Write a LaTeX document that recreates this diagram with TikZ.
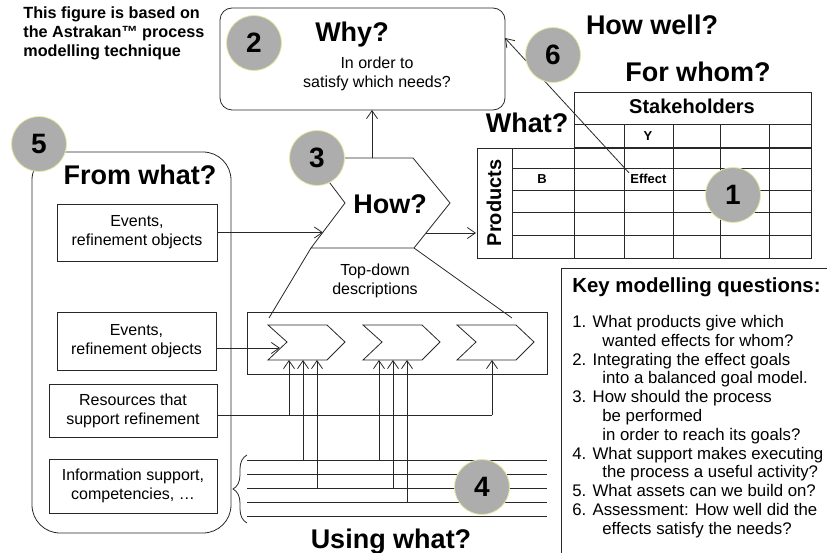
\documentclass[tikz,border=0pt]{standalone}
\usepackage{fontspec}
\setmainfont{Liberation Sans}
\usetikzlibrary{arrows.meta,decorations.pathreplacing}
\definecolor{numgray}{RGB}{173,173,173}
\definecolor{numedge}{RGB}{232,232,160}
\definecolor{ink}{RGB}{40,40,40}
\begin{document}
\begin{tikzpicture}[x=1pt,y=-1pt,line width=0.8pt,draw=ink,
  num/.style={circle,fill=numgray,draw=numedge,line width=0.8pt,minimum size=55pt,inner sep=0pt,font=\fontsize{28}{28}\selectfont\bfseries},
  tip/.style={-{Straight Barb[length=8pt,width=11pt,line width=0.8pt]}},
  bigq/.style={inner sep=0pt,font=\fontsize{27}{27}\selectfont\bfseries},
  body/.style={inner sep=0pt,align=center,font=\fontsize{16}{19}\selectfont},
  srcbox/.style={draw,inner sep=0pt,align=center,font=\fontsize{16}{19}\selectfont},
  cell/.style={inner sep=1pt,font=\fontsize{13}{13}\selectfont\bfseries}]
\useasboundingbox (0,0) rectangle (827,553);

% intro text
\node[anchor=north west,inner sep=0pt,align=left,font=\fontsize{16.2}{19}\selectfont\bfseries] (intro) at (23,6)
  {This figure is based on\\the Astrakan™ process\\modelling technique};

% Why box
\node[draw,rounded corners=12pt,minimum width=285pt,minimum height=102pt] (why) at (362.5,59) {};
\node[bigq,anchor=base] (whyq) at (352,42) {Why?};
\node[body] (whyt) at (377,74) {In order to\\satisfy which needs?};

% How chevron
\coordinate (h1) at (311,158); \coordinate (h2) at (413,158); \coordinate (h3) at (450,203);
\coordinate (h4) at (414,248); \coordinate (h5) at (311,248); \coordinate (h6) at (345,203);
\draw (h1) -- (h2) -- (h3) -- (h4) -- (h5) -- (h6) -- cycle;
\node[bigq] (howq) at (390,204) {How?};
\coordinate (howtop) at (372,158); \coordinate (whybot) at (372,110);
\draw[tip] (howtop) -- (whybot);
\coordinate (howout) at (426,233); \coordinate (tabin) at (476,233);
\draw[tip] (howout) -- (tabin);

% top-down
\coordinate (tdl) at (269,318); \coordinate (tdr) at (512,318);
\draw (h5) -- (tdl);
\draw (h4) -- (tdr);
\node[body] (td) at (375,281) {Top-down\\descriptions};

% process container and chevrons
\node[draw,minimum width=300pt,minimum height=62pt,inner sep=0pt] (proc) at (397,343) {};
\foreach \dx in {0,95,189}{
  \draw[shift={(\dx,0)}] (268,325) -- (327,325) -- (345,342) -- (327,360) -- (268,360) -- (287,342) -- cycle;
}

% From what box
\node[draw,rounded corners=28pt,minimum width=199pt,minimum height=381pt,inner sep=0pt] (fw) at (131.5,342.5) {};
\node[bigq,anchor=base] (fwq) at (140,185) {From what?};
\node[srcbox,minimum width=160pt,minimum height=57pt] (b1) at (137,232.5) {Events,\\refinement objects};
\node[srcbox,minimum width=159pt,minimum height=58pt] (b2) at (136.5,341) {Events,\\refinement objects};
\node[srcbox,minimum width=168pt,minimum height=53pt] (b3) at (133,410.5) {Resources that\\support refinement};
\node[srcbox,minimum width=168pt,minimum height=54pt] (b4) at (133,486) {Information support,\\competencies, …};

\coordinate (a1) at (323,232.5);
\draw[tip] (b1.east) -- (a1);
\coordinate (a2) at (280,348);
\draw[tip] (b2.east |- a2) -- (a2);

% resources line
\coordinate (res) at (492,415);
\draw (b3.east |- res) -- (res);
\foreach \x/\y in {289/415,303/460,317/488,379/460,393/488,407/502,492/415}{
  \draw[tip] (\x,\y) -- (\x,360);
}

% support lines
\foreach \y in {460,474,488,502,516}{
  \draw (247,\y) -- (547,\y);
}
\draw[decorate,decoration={brace,amplitude=14pt}] (247,523) -- (247,455);
\node[bigq,anchor=base] (uw) at (391,548) {Using what?};

% table
\draw (574,92) rectangle (811,258);
\draw (477,148) rectangle (574,258);
\draw (512,148) -- (512,258);
\draw (574,124) -- (811,124);
\draw[line width=1.6pt] (574,148) -- (811,148);
\foreach \y in {168,190,212,235}{ \draw (512,\y) -- (811,\y); }
\foreach \x in {624,673,720,769}{ \draw (\x,124) -- (\x,258); }
\node[inner sep=0pt,font=\fontsize{20}{20}\selectfont\bfseries] (stk) at (692,106) {Stakeholders};
\node[inner sep=0pt,font=\fontsize{20}{20}\selectfont\bfseries,rotate=90] (prod) at (494,203) {Products};
\node[cell] (cy) at (648,136) {Y};
\node[cell] (cb) at (542,179) {B};
\node[cell,anchor=west] (eff) at (629,179) {Effect};
\node[bigq,anchor=base] (whatq) at (527,133) {What?};
\node[bigq,anchor=base] (hwq) at (652,35) {How well?};
\node[bigq,anchor=base] (fwhom) at (698,82) {For whom?};
\coordinate (whyin) at (505,38);
\draw[tip] (eff.north west) -- (whyin);

% key modelling questions
\coordinate (kqtr) at (827,268); \coordinate (kqtl) at (561,268); \coordinate (kqbl) at (561,553);
\draw (kqtr) -- (kqtl) -- (kqbl);
\node[anchor=base west,inner sep=0pt,font=\fontsize{20.4}{20}\selectfont\bfseries] (kqt) at (572,293) {Key modelling questions:};
\node[anchor=north west,inner sep=0pt,align=left,font=\fontsize{16.8}{18.8}\selectfont] (kq) at (572,315)
{1. What products give which\\
\hspace*{30pt}wanted effects for whom?\\
2. Integrating the effect goals\\
\hspace*{30pt}into a balanced goal model.\\
3. How should the process\\
\hspace*{30pt}be performed\\
\hspace*{30pt}in order to reach its goals?\\
4. What support makes executing\\
\hspace*{30pt}the process a useful activity?\\
5. What assets can we build on?\\
6. Assessment: How well did the\\
\hspace*{30pt}effects satisfy the needs?};

% numbered circles
\node[num] (n2) at (254,43) {2};
\node[num] (n6) at (553,55) {6};
\node[num] (n5) at (39,144) {5};
\node[num] (n3) at (317,158) {3};
\node[num] (n1) at (733,195) {1};
\node[num] (n4) at (482,487) {4};
\end{tikzpicture}
\end{document}
